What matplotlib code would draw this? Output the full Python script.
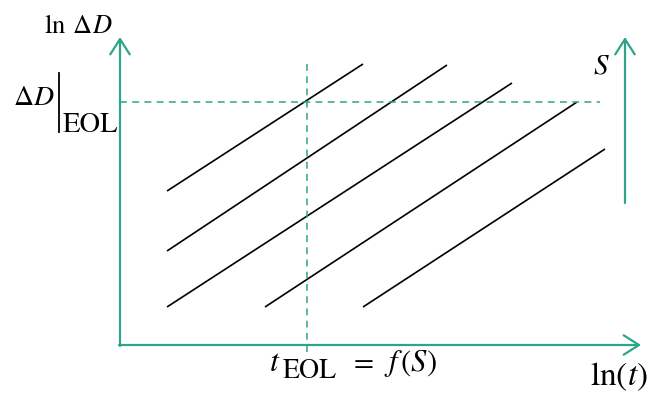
import matplotlib
matplotlib.use("Agg")
import matplotlib.pyplot as plt

plt.rcParams['mathtext.fontset'] = 'stix'
plt.rcParams['font.family'] = 'STIXGeneral'

# schematic in pixel units (x right, y down)
teal = '#2ea58a'

# degradation lines: start and end points
x_start = [167, 167, 167, 265, 363]
y_start = [191, 251, 307, 307, 307]
x_end = [363, 447, 512, 577, 605]
y_end = [64, 65, 83, 102, 149]

origin = (120, 345)
x_axis_end = 641
y_axis_end = 37

eol_level = 102      # dashed horizontal
eol_time = 307       # dashed vertical
s_arrow_x = 625
s_arrow_y = (203, 37)

fig = plt.figure(figsize=(6.54, 3.94), dpi=100)
ax = fig.add_axes([0, 0, 1, 1])
ax.set_xlim(0, 654)
ax.set_ylim(394, 0)
ax.axis('off')

for xs, ys, xe, ye in zip(x_start, y_start, x_end, y_end):
    ax.plot([xs, xe], [ys, ye], color='black', lw=1.2, solid_capstyle='butt')

# dashed guides
ax.plot([origin[0], 600], [eol_level, eol_level], color=teal, lw=1.1,
        dashes=(4.5, 3.5))
ax.plot([eol_time, eol_time], [64, 352], color=teal, lw=1.1,
        dashes=(4.5, 3.5))

arrow = dict(arrowstyle='->,head_length=0.55,head_width=0.35', color=teal,
             lw=1.6, mutation_scale=20, shrinkA=0, shrinkB=0)
ax.annotate('', xy=(x_axis_end, origin[1]), xytext=(origin[0] - 1, origin[1]),
            arrowprops=arrow)
ax.annotate('', xy=(origin[0], y_axis_end), xytext=(origin[0], origin[1] + 1),
            arrowprops=arrow)
ax.annotate('', xy=(s_arrow_x, s_arrow_y[1]), xytext=(s_arrow_x, s_arrow_y[0]),
            arrowprops=arrow)

# labels, built in pieces so the subscripts keep their size
ax.text(44, 33, r'$\ln\;\Delta D$', fontsize=19, ha='left', va='baseline')

ax.text(13, 105, r'$\Delta D$', fontsize=20, ha='left', va='baseline')
ax.plot([59, 59], [73, 132], color='black', lw=1.3)
ax.text(63, 132, 'EOL', fontsize=20.5, ha='left', va='baseline')

ax.text(269, 371, r'$t$', fontsize=23, ha='left', va='baseline')
ax.text(283, 378, 'EOL', fontsize=20, ha='left', va='baseline')
ax.text(364, 371, '=', fontsize=21, ha='center', va='baseline')
ax.text(384, 371, r'$f\,(S)$', fontsize=22, ha='left', va='baseline')

ax.text(590, 385, r'$\ln(t)$', fontsize=24, ha='left', va='baseline')
ax.text(593, 73, r'$S$', fontsize=21, ha='left', va='baseline')

fig.savefig('out.png', dpi=100)
